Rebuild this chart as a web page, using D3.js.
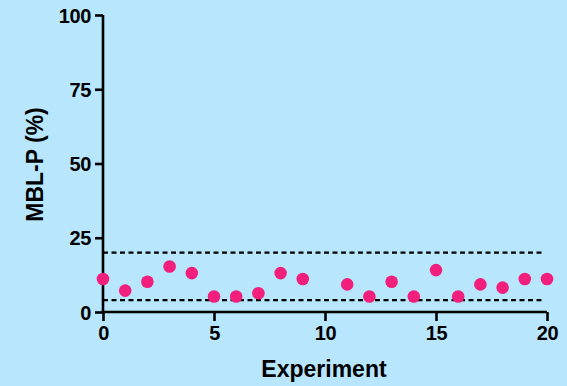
<!DOCTYPE html>
<html>
<head>
<meta charset="utf-8">
<style>
  html, body { margin: 0; padding: 0; background: #b7e6fd; }
  svg { display: block; }
  text { font-family: "Liberation Sans", Arial, sans-serif; font-weight: bold; fill: #000; }
</style>
<script src="https://cdn.jsdelivr.net/npm/d3@7"></script>
</head>
<body>
<div id="chart"></div>
<script>
// experiment number / MBL-P value (%)
var experiments = [0, 1, 2, 3, 4, 5, 6, 7, 8, 9, 11, 12, 13, 14, 15, 16, 17, 18, 19, 20];
var mblp = [11.1, 7.2, 10.2, 15.3, 13.1, 5.2, 5.2, 6.3, 13.1, 11.1, 9.3, 5.2, 10.2, 5.2, 14.1, 5.2, 9.3, 8.2, 11.1, 11.1];
var xTicks = [0, 5, 10, 15, 20];
var yTicks = [0, 25, 50, 75, 100];
var refLines = [4, 20];

var W = 567, H = 386;
var svg = d3.select('#chart').append('svg')
    .attr('width', W)
    .attr('height', H);

svg.append('rect')
    .attr('width', W)
    .attr('height', H)
    .attr('fill', '#b7e6fd');

var x = d3.scaleLinear().domain([0, 20]).range([103, 547]);
var y = d3.scaleLinear().domain([0, 100]).range([312, 15]);

// reference lines
svg.selectAll('line.ref')
    .data(refLines)
  .enter().append('line')
    .attr('class', 'ref')
    .attr('x1', x(0))
    .attr('x2', x(19.75))
    .attr('y1', function(d) { return y(d); })
    .attr('y2', function(d) { return y(d); })
    .attr('stroke', '#000')
    .attr('stroke-width', 2.2)
    .attr('stroke-dasharray', '5,3.5');

// y axis
var yAxis = svg.append('g')
    .attr('transform', 'translate(' + x(0) + ',0)')
    .call(d3.axisLeft(y).tickValues(yTicks).tickSize(8).tickPadding(4).tickSizeOuter(0));

// x axis
var xAxis = svg.append('g')
    .attr('transform', 'translate(0,' + y(0) + ')')
    .call(d3.axisBottom(x).tickValues(xTicks).tickSize(9).tickPadding(5).tickSizeOuter(0));

[xAxis, yAxis].forEach(function(g) {
  g.attr('font-size', null).attr('font-family', null);
  g.select('.domain').attr('stroke', '#000').attr('stroke-width', 2.6);
  g.selectAll('.tick line').attr('stroke', '#000').attr('stroke-width', 2.6);
  g.selectAll('.tick text')
      .attr('fill', '#000')
      .style('font-size', '20px')
      .style('letter-spacing', '-0.4px')
      .style('font-weight', 'bold')
      .style('font-family', '"Liberation Sans", Arial, sans-serif');
});
yAxis.selectAll('.tick text').attr('dy', '0.36em');
yAxis.select('.domain').attr('d', 'M0,' + (y(0) + 1.3) + 'V' + y(100));
xAxis.select('.domain').attr('d', 'M' + (x(0) - 1.3) + ',0H' + x(20));

// points
svg.selectAll('circle')
    .data(experiments)
  .enter().append('circle')
    .attr('cx', function(d) { return x(d); })
    .attr('cy', function(d, i) { return y(mblp[i]); })
    .attr('r', 6.3)
    .attr('fill', '#f21f7c');

// axis titles
svg.append('text')
    .attr('x', x(10) - 1)
    .attr('y', 377)
    .attr('text-anchor', 'middle')
    .style('font-size', '23px')
    .text('Experiment');

svg.append('text')
    .attr('transform', 'translate(43,' + (y(50) + 1) + ') rotate(-90)')
    .attr('text-anchor', 'middle')
    .style('font-size', '23px')
    .text('MBL-P (%)');
</script>
</body>
</html>
